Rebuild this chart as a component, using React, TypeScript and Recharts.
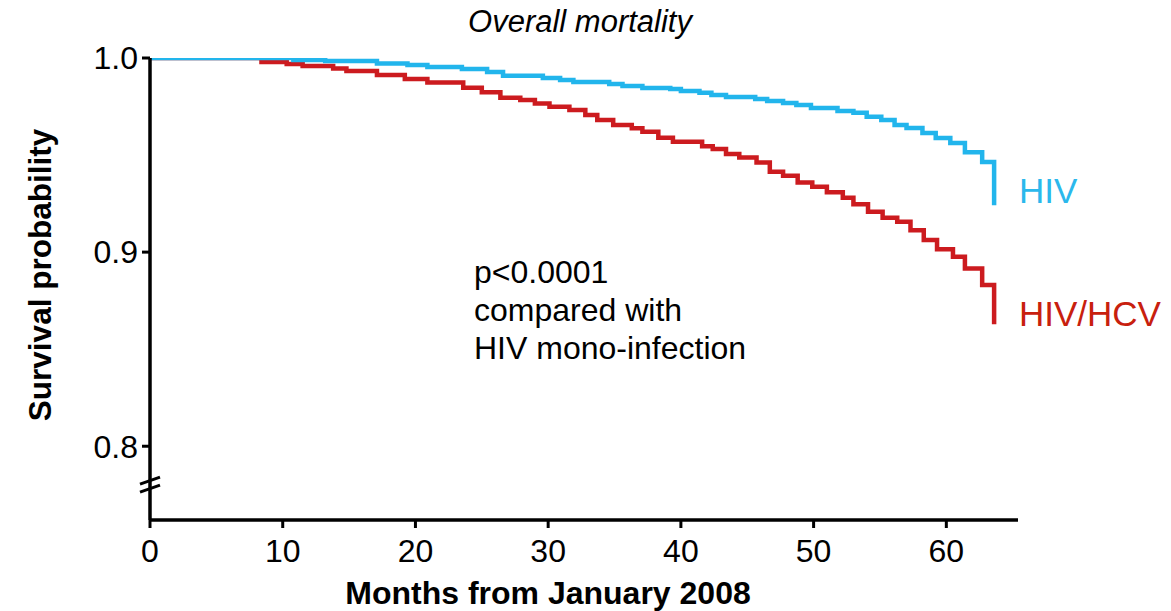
import React from 'react';
import { LineChart, Line, XAxis, YAxis, ReferenceDot } from 'recharts';

// HIV mono-infection (blue) Kaplan-Meier steps
const hivMonths = [0, 10.8, 13.2, 17.1, 19.4, 20.9, 23.5, 25.4, 26.6, 29.6, 30.9, 31.9, 34.6, 35.6, 37.1, 39.2, 40.0, 41.4, 42.3, 43.4, 45.6, 46.5, 47.7, 48.7, 49.8, 51.8, 53.0, 54.0, 55.1, 56.1, 57.0, 58.2, 59.2, 60.3, 61.4, 62.7, 63.6];
const hivSurvival = [1.0, 0.999, 0.9985, 0.9972, 0.9964, 0.9954, 0.9943, 0.9928, 0.9909, 0.9897, 0.9887, 0.9876, 0.9866, 0.9856, 0.9845, 0.984, 0.983, 0.9821, 0.9809, 0.9799, 0.9789, 0.9778, 0.9768, 0.9758, 0.9742, 0.9727, 0.9718, 0.9697, 0.968, 0.9655, 0.9639, 0.9613, 0.9588, 0.9562, 0.9515, 0.9464, 0.9242];

// HIV/HCV co-infection (red) Kaplan-Meier steps
const hcvMonths = [0, 8.4, 10.3, 11.5, 13.8, 14.8, 17.1, 19.2, 20.9, 23.6, 25.0, 26.4, 27.9, 29.0, 30.1, 31.6, 32.8, 33.7, 34.9, 36.3, 37.1, 38.3, 39.4, 41.6, 42.4, 43.4, 44.4, 45.7, 46.7, 47.7, 48.8, 49.9, 51.0, 52.2, 53.0, 54.1, 55.2, 56.3, 57.3, 58.3, 59.3, 60.5, 61.4, 62.7, 63.6];
const hcvSurvival = [1.0, 0.9979, 0.9969, 0.9959, 0.9946, 0.9933, 0.9912, 0.9892, 0.9874, 0.9847, 0.9823, 0.9795, 0.9784, 0.9766, 0.9749, 0.9732, 0.9706, 0.968, 0.9655, 0.9638, 0.962, 0.9589, 0.9569, 0.9546, 0.9531, 0.9505, 0.9488, 0.9462, 0.9414, 0.9393, 0.9359, 0.9337, 0.9308, 0.928, 0.9247, 0.9208, 0.9177, 0.9156, 0.9113, 0.9062, 0.9015, 0.8976, 0.8916, 0.883, 0.8629];

const xTicks = [0, 10, 20, 30, 40, 50, 60];
const yTicks = [0.8, 0.9, 1.0];

const title = 'Overall mortality';
const xLabel = 'Months from January 2008';
const yLabel = 'Survival probability';
const annotation = ['p<0.0001', 'compared with', 'HIV mono-infection'];
const seriesNames = ['HIV', 'HIV/HCV'];

const hivData = hivMonths.map((m, i) => ({ month: m, survival: hivSurvival[i] }));
const hcvData = hcvMonths.map((m, i) => ({ month: m, survival: hcvSurvival[i] }));

const FONT = '"Liberation Sans", Arial, Helvetica, sans-serif';
const BLUE = '#22B5EC';
const RED = '#CC1B1F';

const BreakMark = (props: any) => {
  const { cx, cy } = props;
  if (cx == null || cy == null) return null;
  return (
    <g stroke="#000" strokeWidth={3}>
      <line x1={cx - 10} y1={cy - 1} x2={cx + 10} y2={cy - 8} />
      <line x1={cx - 10} y1={cy + 7} x2={cx + 10} y2={cy} />
    </g>
  );
};

export default function App() {
  return (
    <div style={{ position: 'absolute', left: 0, top: 0, width: 1171, height: 611, background: '#fff' }}>
      <LineChart
        width={1171}
        height={611}
        margin={{ top: 58, right: 153, bottom: 51, left: 90 }}
      >
        <XAxis
          type="number"
          dataKey="month"
          domain={[0, 65.4]}
          ticks={xTicks}
          allowDataOverflow
          height={40}
          axisLine={{ stroke: '#000', strokeWidth: 3.5 }}
          tickLine={{ stroke: '#000', strokeWidth: 3 }}
          tickSize={8}
          tickMargin={11}
          tick={{ fill: '#000', fontSize: 32, fontFamily: FONT }}
        />
        <YAxis
          type="number"
          domain={[0.762, 1]}
          ticks={yTicks}
          allowDataOverflow
          width={60}
          tickFormatter={(v: number) => v.toFixed(1)}
          axisLine={{ stroke: '#000', strokeWidth: 3.5 }}
          tickLine={{ stroke: '#000', strokeWidth: 3 }}
          tickSize={8}
          tickMargin={4}
          tick={{ fill: '#000', fontSize: 32, fontFamily: FONT }}
        />
        <Line
          data={hcvData}
          dataKey="survival"
          type="stepAfter"
          stroke={RED}
          strokeWidth={4.5}
          dot={false}
          activeDot={false}
          isAnimationActive={false}
        />
        <Line
          data={hivData}
          dataKey="survival"
          type="stepAfter"
          stroke={BLUE}
          strokeWidth={4.5}
          dot={false}
          activeDot={false}
          isAnimationActive={false}
        />
        <ReferenceDot x={0} y={0.78} r={0} shape={BreakMark} ifOverflow="visible" />
      </LineChart>
      <svg
        width={1171}
        height={611}
        style={{ position: 'absolute', left: 0, top: 0, pointerEvents: 'none' }}
        fontFamily={FONT}
      >
        <text x={580} y={32} textAnchor="middle" fontSize={31} fontStyle="italic" fill="#000">
          {title}
        </text>
        <text
          x={0}
          y={0}
          transform="translate(51,275) rotate(-90)"
          textAnchor="middle"
          fontSize={31.5}
          fontWeight="bold"
          fill="#000"
        >
          {yLabel}
        </text>
        <text x={548} y={604} textAnchor="middle" fontSize={32} fontWeight="bold" fill="#000">
          {xLabel}
        </text>
        {annotation.map((line, i) => (
          <text key={line} x={474} y={283 + i * 38} fontSize={32} fill="#000">
            {line}
          </text>
        ))}
        <text x={1019} y={203} fontSize={35} fill="#2BB8EC">
          {seriesNames[0]}
        </text>
        <text x={1019} y={326} fontSize={35} fill="#C8200E">
          {seriesNames[1]}
        </text>
      </svg>
    </div>
  );
}
